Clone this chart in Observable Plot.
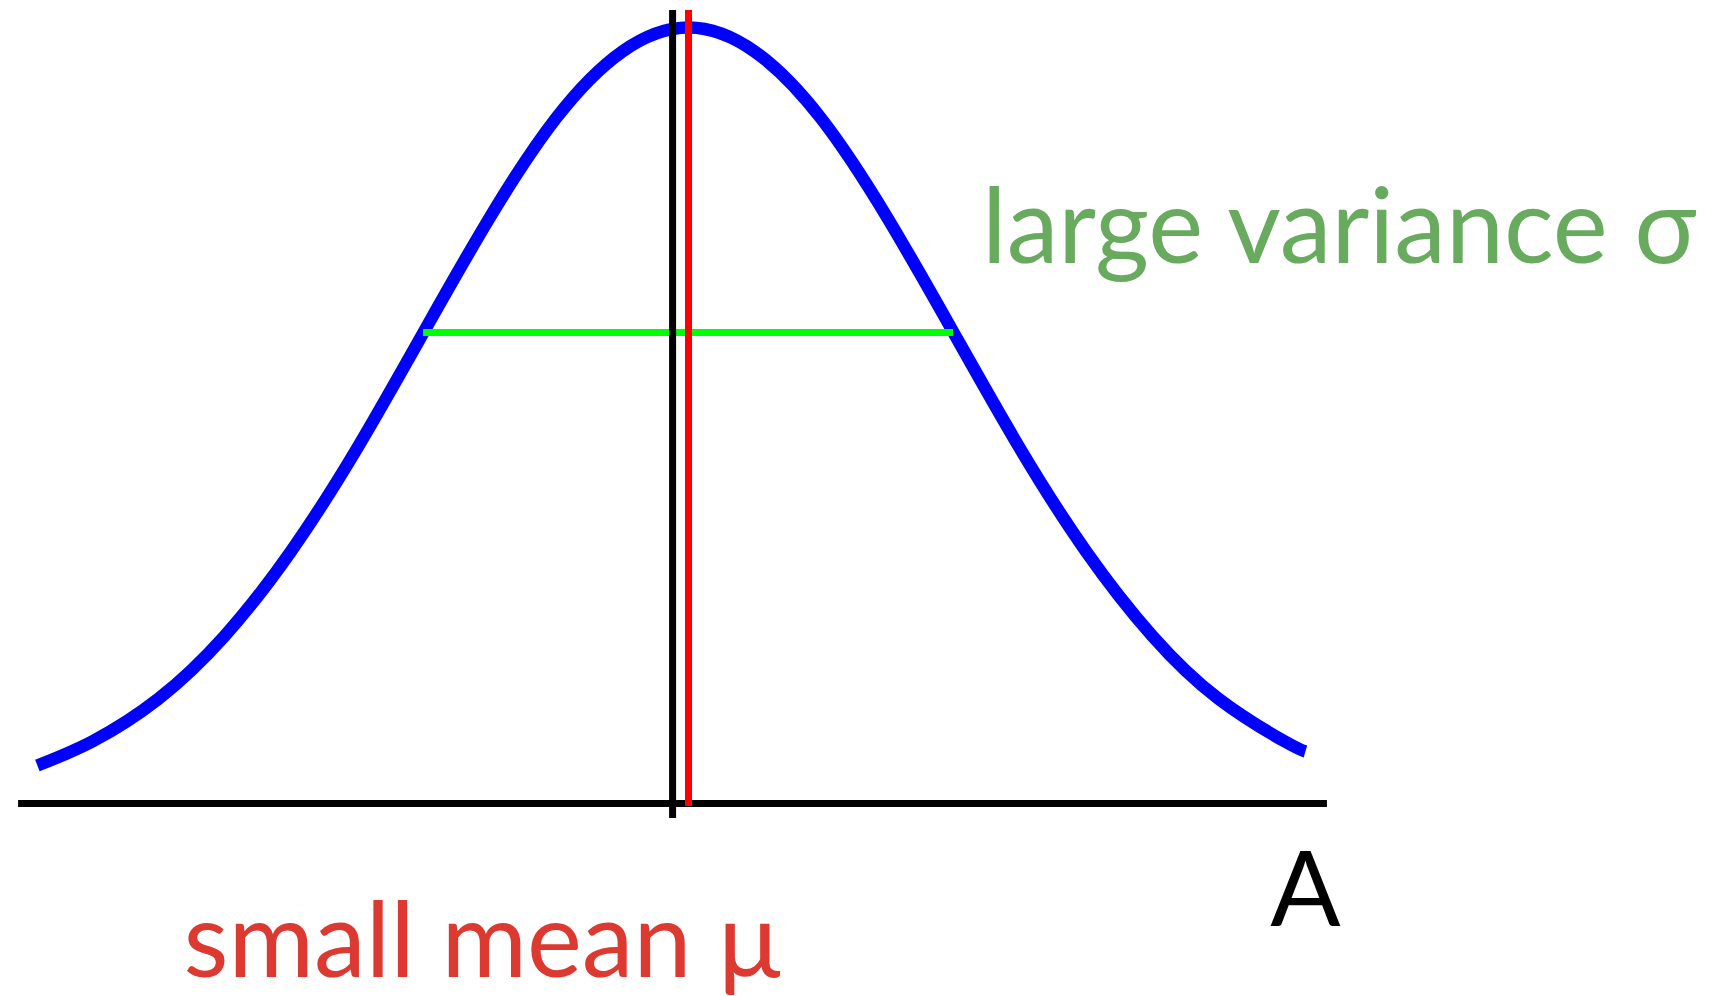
<!DOCTYPE html>
<html>
<head>
<meta charset="utf-8">
<script src="https://cdn.jsdelivr.net/npm/d3@7"></script>
<script src="https://cdn.jsdelivr.net/npm/@observablehq/plot@0.6"></script>
<style>
  html, body { margin: 0; padding: 0; background: #fff; overflow: hidden; }
  #chart svg { display: block; }
</style>
</head>
<body>
<div id="chart"></div>
<script>
// A values in units of sigma, relative to the mean mu
const aValues = [-2.457, -2.25, -2.0, -1.75, -1.5, -1.25, -1.0, -0.75, -0.5, -0.25, 0, 0.25, 0.5, 0.75, 1.0, 1.25, 1.5, 1.75, 2.0, 2.25, 2.328];
// density, relative to peak height
const density = [0.049, 0.080, 0.135, 0.216, 0.325, 0.458, 0.607, 0.755, 0.883, 0.969, 1.0, 0.969, 0.883, 0.755, 0.607, 0.458, 0.325, 0.216, 0.135, 0.080, 0.067];

const axisExtent = [-2.528, 2.411];
const zeroLineX = -0.06;      // black vertical (A = 0)
const meanX = 0;              // red vertical (mean mu)
const sigmaLevel = 0.607;     // green line height
const sigmaExtent = [-1.0, 1.0];
const lineTop = 1.022;

const startLabels = [
  {text: "large variance σ", x: 1.108, y: 0.696, color: "#69ab5e"},
  {text: "small mean μ", x: -1.906, y: -0.2242, color: "#dc3a30"}
];
const axisLabels = [
  {text: "A", x: 2.328, y: -0.1585, color: "#000000"}
];

const curve = aValues.map((a, i) => ({a, d: density[i]}));

const W = 1731, H = 996;
const font = "Lato, 'Open Sans', sans-serif";
const plot = Plot.plot({
  width: W,
  height: H,
  margin: 0,
  x: {domain: [-688 / 265, (W - 688) / 265], axis: null},
  y: {domain: [-(H - 803) / 776, 803 / 776], axis: null},
  marks: [
    Plot.ruleY([0], {x1: axisExtent[0], x2: axisExtent[1], stroke: "#000", strokeWidth: 7}),
    Plot.line(curve, {x: "a", y: "d", stroke: "#0000ff", strokeWidth: 12.5, curve: "natural", strokeLinecap: "butt", strokeLinejoin: "round"}),
    Plot.ruleY([sigmaLevel], {x1: sigmaExtent[0], x2: sigmaExtent[1], stroke: "#00ff00", strokeWidth: 7}),
    Plot.ruleX([zeroLineX], {y1: -0.0193, y2: lineTop, stroke: "#000", strokeWidth: 7}),
    Plot.ruleX([meanX], {y1: -0.0039, y2: lineTop, stroke: "#ff0000", strokeWidth: 7}),
    Plot.text(startLabels, {
      x: "x", y: "y", text: "text", fill: "color",
      textAnchor: "start", lineAnchor: "bottom",
      fontSize: 104, fontFamily: font
    }),
    Plot.text(axisLabels, {
      x: "x", y: "y", text: "text", fill: "color",
      textAnchor: "middle", lineAnchor: "bottom",
      fontSize: 104, fontFamily: font
    })
  ]
});
document.getElementById("chart").appendChild(plot);
</script>
</body>
</html>
